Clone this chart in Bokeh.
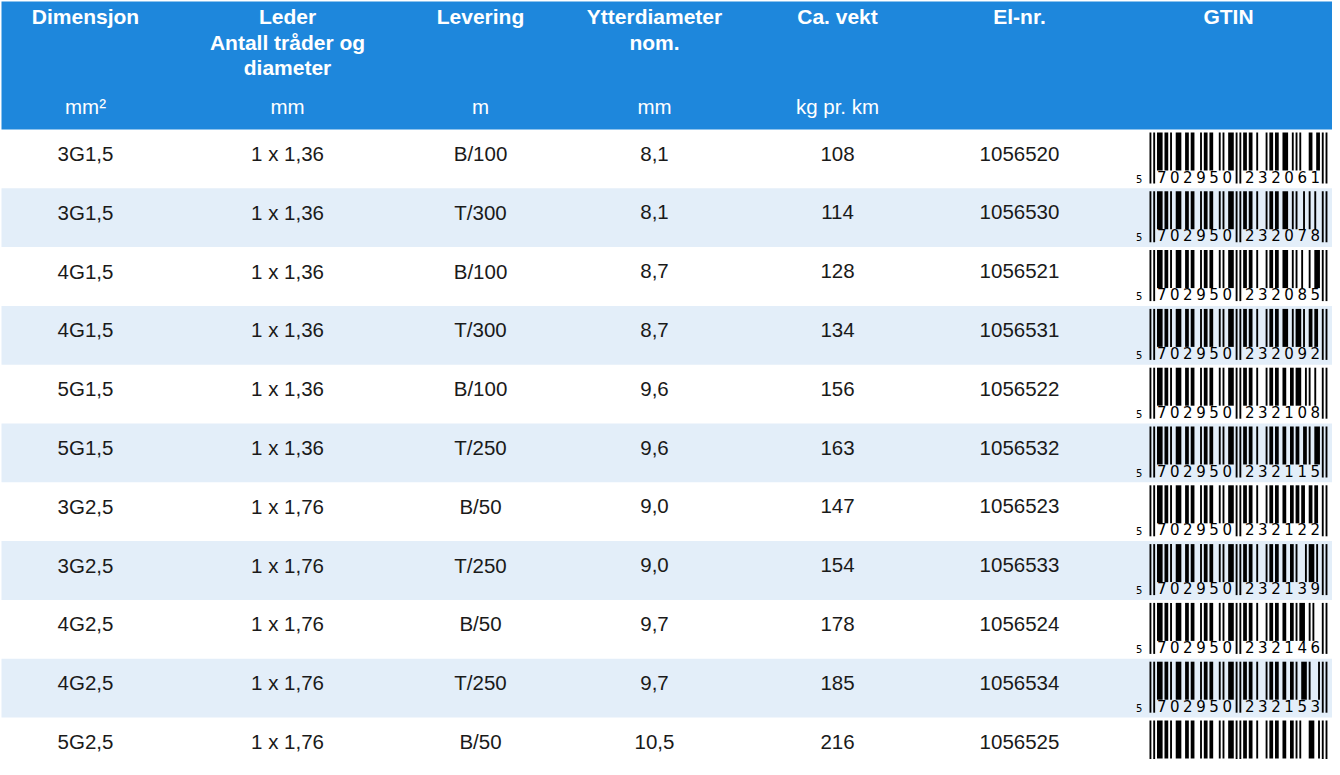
from bokeh.plotting import figure
from bokeh.models import Range1d
from bokeh.core.properties import value
from bokeh.embed import file_html
from bokeh.resources import INLINE

# ---------------- data ----------------
header_titles = [["Dimensjon"], ["Leder", "Antall tråder og", "diameter"], ["Levering"],
                 ["Ytterdiameter", "nom."], ["Ca. vekt"], ["El-nr."], ["GTIN"]]
header_units = ["mm²", "mm", "m", "mm", "kg pr. km", "", ""]

dimensjon = ["3G1,5", "3G1,5", "4G1,5", "4G1,5", "5G1,5", "5G1,5",
             "3G2,5", "3G2,5", "4G2,5", "4G2,5", "5G2,5"]
leder = ["1 x 1,36", "1 x 1,36", "1 x 1,36", "1 x 1,36", "1 x 1,36", "1 x 1,36",
         "1 x 1,76", "1 x 1,76", "1 x 1,76", "1 x 1,76", "1 x 1,76"]
levering = ["B/100", "T/300", "B/100", "T/300", "B/100", "T/250",
            "B/50", "T/250", "B/50", "T/250", "B/50"]
ytterdiameter = ["8,1", "8,1", "8,7", "8,7", "9,6", "9,6", "9,0", "9,0", "9,7", "9,7", "10,5"]
vekt = [108, 114, 128, 134, 156, 163, 147, 154, 178, 185, 216]
elnr = [1056520, 1056530, 1056521, 1056531, 1056522, 1056532,
        1056523, 1056533, 1056524, 1056534, 1056525]
gtin = ["5702950232061", "5702950232078", "5702950232085", "5702950232092",
        "5702950232108", "5702950232115", "5702950232122", "5702950232139",
        "5702950232146", "5702950232153", "5702950232160"]

# ---------------- EAN-13 encoding ----------------
L_CODES = ["0001101", "0011001", "0010011", "0111101", "0100011",
           "0110001", "0101111", "0111011", "0110111", "0001011"]
R_CODES = ["".join("1" if c == "0" else "0" for c in code) for code in L_CODES]
G_CODES = [code[::-1] for code in R_CODES]
PARITY = ["LLLLLL", "LLGLGG", "LLGGLG", "LLGGGL", "LGLLGG",
          "LGGLLG", "LGGGLL", "LGLGLG", "LGLGGL", "LGGLGL"]


def ean13_modules(code):
    first = int(code[0])
    bits = "101"
    guards = [True] * 3
    for i, ch in enumerate(code[1:7]):
        d = int(ch)
        enc = L_CODES[d] if PARITY[first][i] == "L" else G_CODES[d]
        bits += enc
        guards += [False] * 7
    bits += "01010"
    guards += [True] * 5
    for ch in code[7:]:
        bits += R_CODES[int(ch)]
        guards += [False] * 7
    bits += "101"
    guards += [True] * 3
    return bits, guards


# ---------------- layout ----------------
W, H = 1332, 759
BLUE = "#1E87DC"
LIGHT = "#E3EEF9"
TEXT = "#1a1a1a"
FONT = value("Liberation Sans")

p = figure(width=W, height=H, x_range=Range1d(8, 8 + W), y_range=Range1d(8 + H, 8),
           output_backend="svg", toolbar_location=None, min_border=0)
p.axis.visible = False
p.grid.visible = False
p.outline_line_color = None
p.background_fill_color = "white"
p.border_fill_color = "white"

TL, TR = 9, 1350
HEAD_TOP, HEAD_BOT = 9, 137
ROW_H = 58.8
col_x = [93, 295, 488, 662, 845, 1027, 1236]
GX0, MOD = 1157, 1.873

n = len(dimensjon)
row_tops = [HEAD_BOT + i * ROW_H for i in range(n)]

# header background
p.quad(left=[TL], right=[TR], top=[HEAD_TOP], bottom=[HEAD_BOT], fill_color=BLUE, line_color=None)

# striped rows
lt = [t for i, t in enumerate(row_tops) if i % 2 == 1]
p.quad(left=[TL] * len(lt), right=[TR] * len(lt), top=lt, bottom=[t + ROW_H for t in lt],
       fill_color=LIGHT, line_color=None)

# header titles
hx, hy, ht = [], [], []
line_base = [24, 49.5, 75]
for cx, lines in zip(col_x, header_titles):
    for j, s in enumerate(lines):
        hx.append(cx); hy.append(line_base[j]); ht.append(s)
p.text(x=hx, y=hy, text=ht, text_align="center", text_baseline="alphabetic",
       text_font=FONT, text_font_style="bold", text_font_size="21px", text_color="white")

ux = [cx for cx, u in zip(col_x, header_units) if u]
ut = [u for u in header_units if u]
p.text(x=ux, y=[114] * len(ux), text=ut, text_align="center", text_baseline="alphabetic",
       text_font=FONT, text_font_size="20.5px", text_color="white")

# body text
bx, by, bt = [], [], []
columns = [dimensjon, leder, levering, ytterdiameter, [str(v) for v in vekt], [str(v) for v in elnr]]
for ci, col in enumerate(columns):
    for ri, s in enumerate(col):
        bx.append(col_x[ci]); by.append(row_tops[ri] + 24); bt.append(s)
p.text(x=bx, y=by, text=bt, text_align="center", text_baseline="alphabetic",
       text_font=FONT, text_font_size="20.5px", text_color=TEXT)

# barcodes
ql, qr, qt, qb = [], [], [], []
dx, dy, dt = [], [], []
fx, fy, ft = [], [], []
for ri, code in enumerate(gtin):
    top = row_tops[ri]
    bits, guards = ean13_modules(code)
    i = 0
    while i < len(bits):
        if bits[i] == "1":
            j = i
            while j < len(bits) and bits[j] == "1":
                j += 1
            g = guards[i]
            ql.append(GX0 + i * MOD); qr.append(GX0 + j * MOD)
            qt.append(top + 3); qb.append(top + (54 if g else 41))
            i = j
        else:
            i += 1
    fx.append(GX0 - 5.5 * MOD); fy.append(top + 49); ft.append(code[0])
    for k, ch in enumerate(code[1:7]):
        dx.append(GX0 + (3 + 7 * k + 3.5) * MOD); dy.append(top + 47); dt.append(ch)
    for k, ch in enumerate(code[7:]):
        dx.append(GX0 + (50 + 7 * k + 3.5) * MOD); dy.append(top + 47); dt.append(ch)

p.quad(left=ql, right=qr, top=qt, bottom=qb, fill_color="black", line_color=None)
p.text(x=dx, y=dy, text=dt, text_align="center", text_baseline="alphabetic",
       text_font=value("DejaVu Sans"), text_font_size="15px", text_color="black")
p.text(x=fx, y=fy, text=ft, text_align="center", text_baseline="alphabetic",
       text_font=value("DejaVu Sans"), text_font_size="10px", text_color="black")

open("out.html", "w").write(file_html(p, INLINE))
